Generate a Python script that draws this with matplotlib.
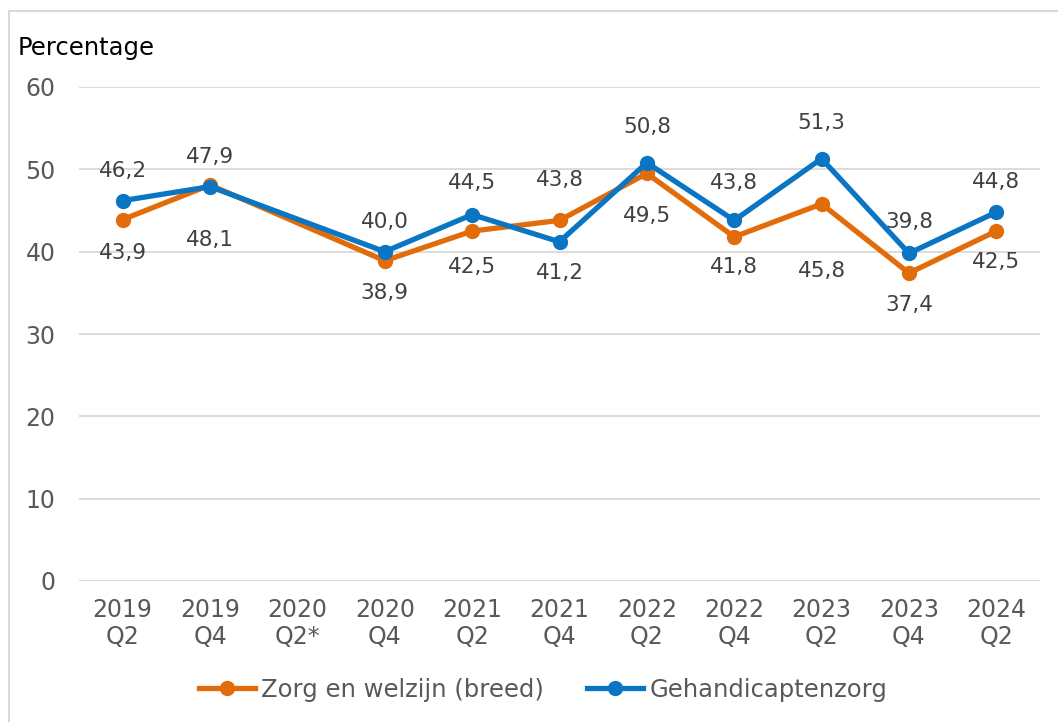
import numpy as np
import matplotlib.pyplot as plt
from matplotlib.lines import Line2D

plt.rcParams['font.family'] = ['DejaVu Sans']

# data
periods = ['2019\nQ2', '2019\nQ4', '2020\nQ2*', '2020\nQ4', '2021\nQ2', '2021\nQ4',
           '2022\nQ2', '2022\nQ4', '2023\nQ2', '2023\nQ4', '2024\nQ2']
zorg = [43.9, 48.1, np.nan, 38.9, 42.5, 43.8, 49.5, 41.8, 45.8, 37.4, 42.5]
gehandicapt = [46.2, 47.9, np.nan, 40.0, 44.5, 41.2, 50.8, 43.8, 51.3, 39.8, 44.8]

# label offsets in pixels (positive = above the point), as placed in the original
zorg_lab_off = [-33, -55, 0, -32, -36, 40, -43, -30, -67, -32, -31]
gehandicapt_lab_off = [30, 30, 0, 30, 32, -31, 36, 37, 36, 31, 30]

ORANGE = '#E36C0A'
BLUE = '#0A75C2'
TXT = '#595959'

fig = plt.figure(figsize=(10.58, 7.22), dpi=100)
ax = fig.add_axes([79 / 1058, 1 - 581 / 722, 961 / 1058, 494 / 722])

x = np.arange(len(periods))


def draw(vals, color, offs, z):
    vals = np.array(vals, dtype=float)
    ok = ~np.isnan(vals)
    ax.plot(x[ok], vals[ok], color=color, lw=3.8, marker='o', ms=10,
            solid_joinstyle='round', zorder=z, clip_on=False)
    for xi, v, off in zip(x, vals, offs):
        if np.isnan(v):
            continue
        lab = f'{v:.1f}'.replace('.', ',')
        ax.annotate(lab, (xi, v), xytext=(0, off * 0.72), textcoords='offset points',
                    ha='center', va='center', fontsize=15.5, color='#404040')


draw(zorg, ORANGE, zorg_lab_off, 3)
draw(gehandicapt, BLUE, gehandicapt_lab_off, 4)

ax.set_xlim(-0.5, len(periods) - 0.5)
ax.set_ylim(0, 60)
ax.set_yticks(range(0, 61, 10))
ax.set_xticks(x)
ax.set_xticklabels(periods, fontsize=17, color=TXT, linespacing=1.2)
ax.tick_params(axis='y', labelsize=17, labelcolor=TXT, length=0, pad=17)
ax.tick_params(axis='x', length=0, pad=12)
ax.grid(axis='y', color='#D9D9D9', lw=1.3)
ax.set_axisbelow(True)
for s in ax.spines.values():
    s.set_visible(False)

fig.text(18 / 1058, 1 - 48 / 722, 'Percentage', fontsize=17.5, color='black', va='center')

# outer frame (left and top only)
fig.add_artist(Line2D([9 / 1058, 9 / 1058], [0, 1 - 11 / 722], color='#D9D9D9', lw=1.5))
fig.add_artist(Line2D([9 / 1058, 1], [1 - 11 / 722, 1 - 11 / 722], color='#D9D9D9', lw=1.5))

handles = [Line2D([], [], color=ORANGE, lw=3.8, marker='o', ms=10),
           Line2D([], [], color=BLUE, lw=3.8, marker='o', ms=10)]
leg = fig.legend(handles, ['Zorg en welzijn (breed)', 'Gehandicaptenzorg'],
                 loc='center', bbox_to_anchor=(543 / 1058, 1 - 690 / 722), ncol=2,
                 frameon=False, fontsize=17.5, handlelength=2.3, handletextpad=0.25,
                 columnspacing=1.8)
for t in leg.get_texts():
    t.set_color(TXT)

fig.savefig('out.png', dpi=100)
